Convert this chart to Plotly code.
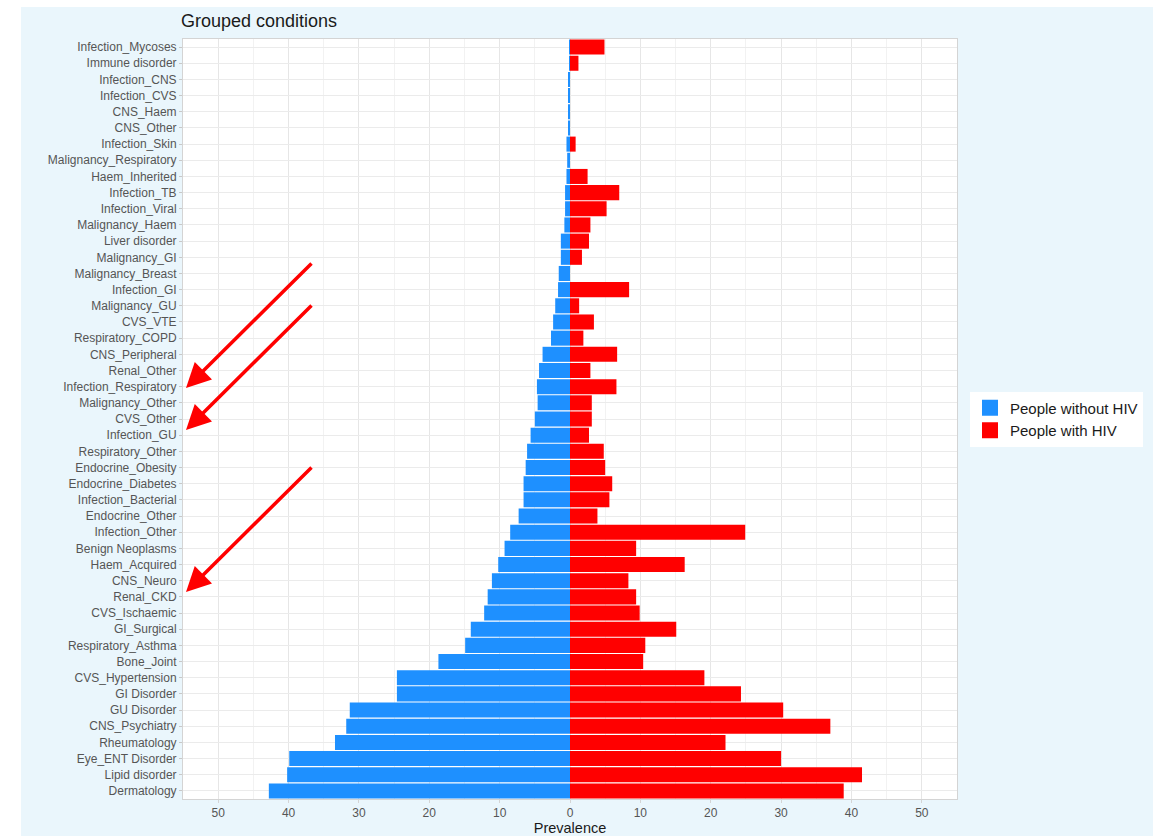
import plotly.graph_objects as go

categories = [
    "Infection_Mycoses", "Immune disorder", "Infection_CNS", "Infection_CVS", "CNS_Haem",
    "CNS_Other", "Infection_Skin", "Malignancy_Respiratory", "Haem_Inherited", "Infection_TB",
    "Infection_Viral", "Malignancy_Haem", "Liver disorder", "Malignancy_GI", "Malignancy_Breast",
    "Infection_GI", "Malignancy_GU", "CVS_VTE", "Respiratory_COPD", "CNS_Peripheral",
    "Renal_Other", "Infection_Respiratory", "Malignancy_Other", "CVS_Other", "Infection_GU",
    "Respiratory_Other", "Endocrine_Obesity", "Endocrine_Diabetes", "Infection_Bacterial", "Endocrine_Other",
    "Infection_Other", "Benign Neoplasms", "Haem_Acquired", "CNS_Neuro", "Renal_CKD",
    "CVS_Ischaemic", "GI_Surgical", "Respiratory_Asthma", "Bone_Joint", "CVS_Hypertension",
    "GI Disorder", "GU Disorder", "CNS_Psychiatry", "Rheumatology", "Eye_ENT Disorder",
    "Lipid disorder", "Dermatology",
]

without_hiv = [
    0.1, 0.1, 0.2, 0.2, 0.2,
    0.2, 0.5, 0.4, 0.5, 0.7,
    0.7, 0.8, 1.3, 1.3, 1.6,
    1.7, 2.1, 2.4, 2.7, 3.9,
    4.4, 4.7, 4.6, 5.0, 5.6,
    6.1, 6.3, 6.6, 6.6, 7.3,
    8.5, 9.3, 10.2, 11.1, 11.7,
    12.2, 14.1, 14.9, 18.7, 24.6,
    24.6, 31.3, 31.8, 33.4, 39.9,
    40.2, 42.8,
]

with_hiv = [
    4.9, 1.2, 0.0, 0.0, 0.0,
    0.0, 0.8, 0.0, 2.5, 7.0,
    5.2, 2.9, 2.7, 1.7, 0.0,
    8.4, 1.3, 3.4, 1.9, 6.7,
    2.9, 6.6, 3.1, 3.1, 2.7,
    4.8, 5.0, 6.0, 5.6, 3.9,
    24.9, 9.4, 16.3, 8.3, 9.4,
    9.9, 15.1, 10.7, 10.4, 19.1,
    24.3, 30.3, 37.0, 22.1, 30.0,
    41.5, 38.9,
]

tick_vals = [-50, -40, -30, -20, -10, 0, 10, 20, 30, 40, 50]
tick_text = ["50", "40", "30", "20", "10", "0", "10", "20", "30", "40", "50"]

BLUE = "#1E90FF"
RED = "#FF0000"
FONT = "Liberation Sans"

fig = go.Figure()
fig.add_trace(go.Bar(
    y=categories, x=[-v for v in without_hiv], orientation="h",
    name="People without HIV", marker=dict(color=BLUE, line=dict(width=0)),
    showlegend=False,
))
fig.add_trace(go.Bar(
    y=categories, x=with_hiv, orientation="h",
    name="People with HIV", marker=dict(color=RED, line=dict(width=0)),
    showlegend=False,
))
# legend entries with larger square keys
for nm, col in [("People without HIV", BLUE), ("People with HIV", RED)]:
    fig.add_trace(go.Scatter(
        x=[None], y=[None], mode="markers", name=nm,
        marker=dict(symbol="square", size=16, color=col, line=dict(width=0)),
    ))

# body margin is removed below, so figure pixels equal page pixels
FW, FH = 1153, 836
L, R, T, B = 183, 957, 39, 799
W, H = R - L, B - T

def px_to_paper(px, py):
    return (px - L) / W, (B - py) / H

arrows = [((186, 388), (313, 262)), ((186, 430), (313, 304)), ((186, 592), (313, 466))]
annotations = []
for (tx, ty), (sx, sy) in arrows:
    x, y = px_to_paper(tx, ty)
    annotations.append(dict(
        x=x, y=y, xref="paper", yref="paper", text="", showarrow=True,
        ax=sx - tx, ay=sy - ty, axref="pixel", ayref="pixel",
        arrowhead=2, arrowsize=1.4, arrowwidth=3.5, arrowcolor="#FF0000",
    ))

fig.update_layout(
    width=FW, height=FH,
    margin=dict(l=L, r=FW - R, t=T, b=FH - B, pad=0, autoexpand=False),
    paper_bgcolor="#EAF6FC",
    plot_bgcolor="#FFFFFF",
    barmode="relative",
    bargap=0.07,
    font=dict(family=FONT, color="#4D4D4D", size=12),
    title=dict(text="Grouped conditions", x=181 / FW, xanchor="left", y=1 - 21 / FH, yanchor="middle",
               font=dict(family=FONT, size=18, color="#1A1A1A")),
    legend=dict(x=(970 - L) / W, y=0.5, xanchor="left", yanchor="middle", bgcolor="#FFFFFF",
                font=dict(family=FONT, size=15, color="#1A1A1A"), traceorder="normal",
                borderwidth=0, itemwidth=30, tracegroupgap=0),
    annotations=annotations,
    shapes=[
        dict(type="rect", xref="paper", yref="paper", x0=-L / W, x1=(21 - L) / W,
             y0=-(FH - B) / H, y1=B / H,
             fillcolor="#FFFFFF", line=dict(width=0), layer="below"),
        dict(type="rect", xref="paper", yref="paper", x0=-L / W, x1=(FW - L) / W,
             y0=(B - 7) / H, y1=B / H,
             fillcolor="#FFFFFF", line=dict(width=0), layer="below"),
    ],
)

fig.update_xaxes(
    range=[-55, 55], tickvals=tick_vals, ticktext=tick_text, automargin=False,
    showgrid=True, gridcolor="#E6E6E6", gridwidth=1,
    minor=dict(tick0=0, dtick=5, showgrid=True, gridcolor="#F2F2F2", gridwidth=1),
    zeroline=False, showline=True, linecolor="#D4D4D4", mirror=True,
    ticks="outside", ticklen=3, tickcolor="#D4D4D4",
    tickfont=dict(family=FONT, size=12, color="#555555"),
    title=dict(text="Prevalence", font=dict(family=FONT, size=14.5, color="#1A1A1A"), standoff=5),
)
fig.update_yaxes(
    autorange="reversed", showgrid=True, gridcolor="#EBEBEB", gridwidth=1, automargin=False,
    showline=True, linecolor="#D4D4D4", mirror=True,
    ticks="outside", ticklen=3, tickcolor="#C8C8C8",
    tickfont=dict(family=FONT, size=12, color="#555555"),
)

fig.write_html(
    "out.html",
    config={"displayModeBar": False},
    post_script="document.body.style.margin='0px';document.body.style.overflow='hidden';",
)
